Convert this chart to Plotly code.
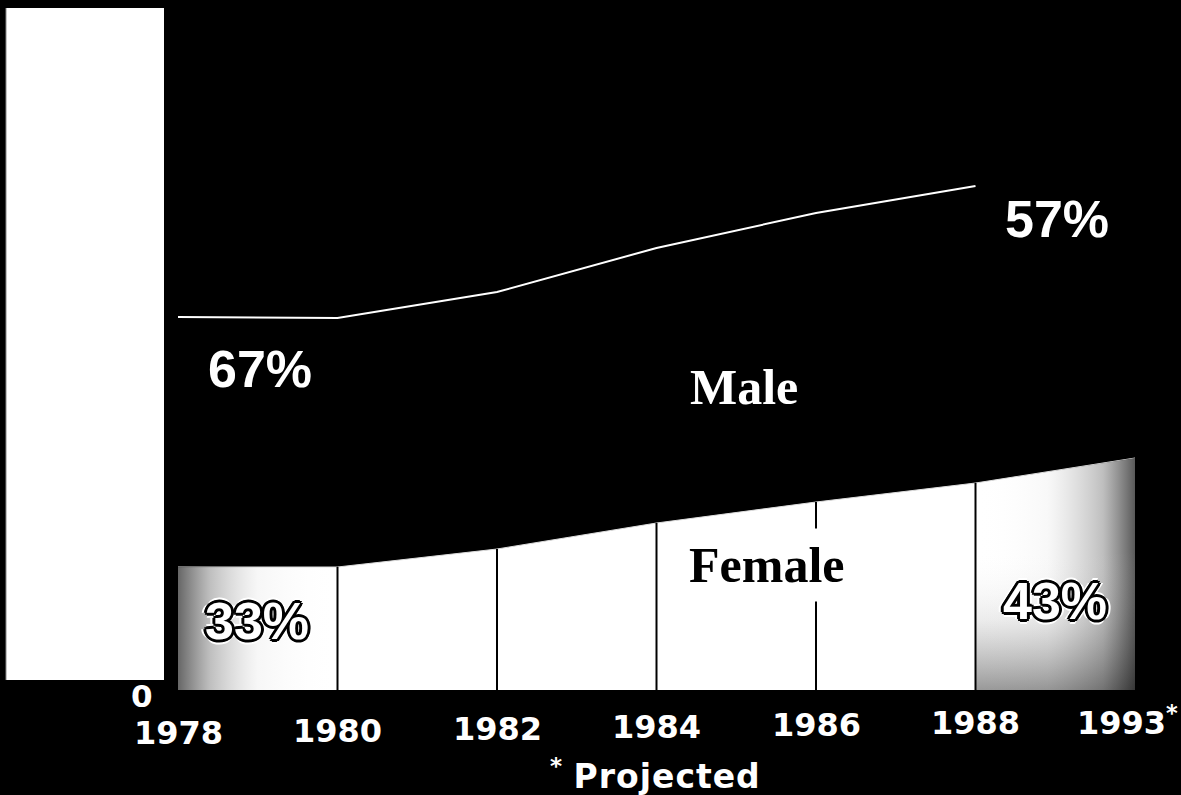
import plotly.graph_objects as go

# Enrollment by sex, stacked (female at the bottom, male on top)
years = ["1978", "1980", "1982", "1984", "1986", "1988", "1993"]
projected = [False, False, False, False, False, False, True]
female = [123, 123, 141, 167, 188, 207, 232]
male = [250, 249, 257, 275, 289, 297, 308]

idx = list(range(len(years)))
total = [f + m for f, m in zip(female, male)]
pct_female = [round(100 * f / t) for f, t in zip(female, total)]
pct_male = [100 - p for p in pct_female]

W, H = 1181, 795
ML, MR, MT, MB = 178, 46, 0, 105
PLOT_W = W - ML - MR
PLOT_H = H - MT - MB
Y_MAX = PLOT_H  # one value unit per pixel

SANS = "Liberation Sans, Arial, sans-serif"
WIDE = "DejaVu Sans, Verdana, sans-serif"
SERIF = "Liberation Serif, Times New Roman, serif"

fig = go.Figure()

# female band
fig.add_trace(go.Scatter(
    x=idx, y=female, mode="lines", fill="tozeroy",
    fillcolor="white", line=dict(color="#dddddd", width=1),
    hoverinfo="skip", showlegend=False,
))

# darkened first and last segments
fig.add_trace(go.Scatter(
    x=[idx[0], idx[0], idx[1], idx[1], idx[0]],
    y=[0, female[0], female[1], 0, 0],
    mode="lines", line=dict(width=0), fill="toself",
    fillgradient=dict(type="horizontal", colorscale=[
        [0, "rgba(0,0,0,0.6)"], [0.2, "rgba(40,40,40,0.3)"],
        [0.5, "rgba(120,120,120,0.06)"], [1, "rgba(255,255,255,0)"]]),
    hoverinfo="skip", showlegend=False,
))
fig.add_trace(go.Scatter(
    x=[idx[-2], idx[-2], idx[-1], idx[-1], idx[-2]],
    y=[0, female[-2], female[-1], 0, 0],
    mode="lines", line=dict(width=0), fill="toself",
    fillgradient=dict(type="horizontal", colorscale=[
        [0, "rgba(255,255,255,0)"], [0.45, "rgba(120,120,120,0.05)"],
        [0.8, "rgba(40,40,40,0.3)"], [1, "rgba(0,0,0,0.65)"]]),
    hoverinfo="skip", showlegend=False,
))
fig.add_trace(go.Scatter(
    x=[idx[-2], idx[-2], idx[-1], idx[-1], idx[-2]],
    y=[0, female[-2], female[-1], 0, 0],
    mode="lines", line=dict(width=0), fill="toself",
    fillgradient=dict(type="vertical", colorscale=[
        [0, "rgba(0,0,0,0.4)"], [0.3, "rgba(60,60,60,0.1)"],
        [0.6, "rgba(255,255,255,0)"], [1, "rgba(255,255,255,0)"]]),
    hoverinfo="skip", showlegend=False,
))

# total (male + female) outline for the observed years
obs = [i for i in idx if not projected[i]]
fig.add_trace(go.Scatter(
    x=obs, y=[total[i] for i in obs], mode="lines",
    line=dict(color="white", width=2),
    hoverinfo="skip", showlegend=False,
))

shapes = []
# year dividers inside the female band
for i in idx[1:-1]:
    shapes.append(dict(type="line", xref="x", yref="y",
                       x0=i, x1=i, y0=0, y1=female[i],
                       line=dict(color="black", width=2)))
# white scale block on the left
shapes.append(dict(type="rect", xref="paper", yref="paper",
                   x0=(6 - ML) / PLOT_W, x1=(164 - ML) / PLOT_W,
                   y0=(PLOT_H - 680) / PLOT_H, y1=(PLOT_H - 8) / PLOT_H,
                   fillcolor="white", line=dict(width=0)))
shapes.append(dict(type="line", xref="paper", yref="paper",
                   x0=(6 - ML) / PLOT_W, x1=(6 - ML) / PLOT_W,
                   y0=(PLOT_H - 680) / PLOT_H, y1=(PLOT_H - 8) / PLOT_H,
                   line=dict(color="#888888", width=1)))

ann = []
# year labels (slightly rising across the axis)
for i in idx:
    label = years[i] + ("<sup>*</sup>" if projected[i] else "")
    ypx = 733 - 2 * i
    ann.append(dict(x=i, xref="x", y=(PLOT_H - ypx) / PLOT_H, yref="paper",
                    xshift=-8 if projected[i] else 0,
                    text=label, showarrow=False, xanchor="center", yanchor="middle",
                    font=dict(family=WIDE, size=32, color="white", weight="bold")))
ann.append(dict(x=(142 - ML) / PLOT_W, xref="paper", y=0, yref="y", yshift=-6,
                text="0", showarrow=False, xanchor="center", yanchor="middle",
                font=dict(family=WIDE, size=31, color="white", weight="bold")))
ann.append(dict(x=(655 - ML) / PLOT_W, xref="paper",
                y=(PLOT_H - 774) / PLOT_H, yref="paper",
                text='<sup>*</sup> <span style="letter-spacing:1px">Projected</span>',
                showarrow=False, xanchor="center", yanchor="middle",
                font=dict(family=WIDE, size=33, color="white", weight="bold")))

# share labels
plain = dict(family=SANS, size=52, color="white", weight="bold")
outlined = dict(family=SANS, size=52, color="white", weight="bold",
                shadow=("2px 0 0 #000, -2px 0 0 #000, 0 2px 0 #000, 0 -2px 0 #000, "
                        "2px 2px 0 #000, -2px -2px 0 #000, 2px -2px 0 #000, -2px 2px 0 #000, "
                        "3px 0 0 #000, -3px 0 0 #000, 0 3px 0 #000, 0 -3px 0 #000, "
                        "5px 0 0 #fff, -5px 0 0 #fff, 0 5px 0 #fff, 0 -5px 0 #fff"))
ann.append(dict(x=0.514, y=321, xref="x", yref="y", text=f"{pct_male[0]}%",
                showarrow=False, font=plain))
ann.append(dict(x=5.51, y=471, xref="x", yref="y", text=f"{pct_male[-1]}%",
                showarrow=False, font=plain))
ann.append(dict(x=0.495, y=69, xref="x", yref="y", text=f"{pct_female[0]}%",
                showarrow=False, font=outlined))
ann.append(dict(x=5.50, y=89, xref="x", yref="y", text=f"{pct_female[-1]}%",
                showarrow=False, font=outlined))

# series names
ann.append(dict(x=3.55, y=303, xref="x", yref="y", text="Male", showarrow=False,
                font=dict(family=SERIF, size=50, color="white", weight="bold")))
ann.append(dict(x=3.69, y=125, xref="x", yref="y", text="Female", showarrow=False,
                bgcolor="white", borderpad=8,
                font=dict(family=SERIF, size=50, color="black", weight="bold")))

fig.update_layout(
    width=W, height=H,
    margin=dict(l=ML, r=MR, t=MT, b=MB),
    paper_bgcolor="black", plot_bgcolor="black",
    xaxis=dict(range=[0, len(years) - 1], visible=False, fixedrange=True),
    yaxis=dict(range=[0, Y_MAX], visible=False, fixedrange=True),
    shapes=shapes, annotations=ann, showlegend=False,
)

fig.write_html("out.html", config={"displayModeBar": False})
